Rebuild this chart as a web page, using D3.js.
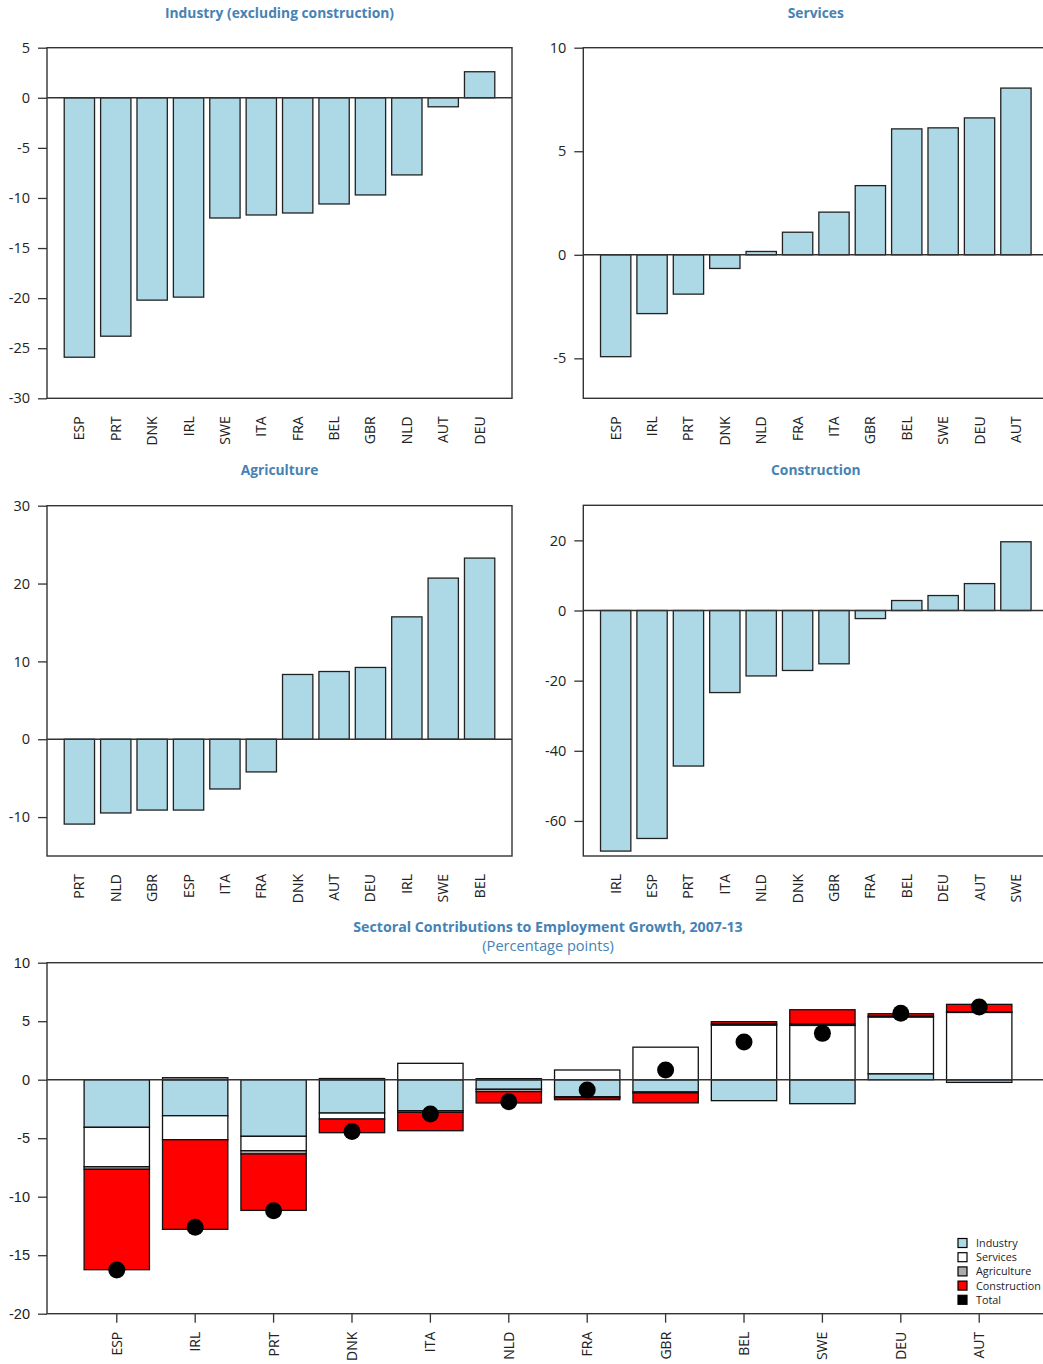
<!DOCTYPE html>
<html><head><meta charset="utf-8">
<script src="https://cdn.jsdelivr.net/npm/d3@7"></script>
<style>
body{margin:0;background:#fff;}
svg{display:block;font-family:"Open Sans","Noto Sans",sans-serif;}
</style></head>
<body><svg id="c" width="1043" height="1364"></svg>
<script>
// ---------- data ----------
const industryCats = ["ESP","PRT","DNK","IRL","SWE","ITA","FRA","BEL","GBR","NLD","AUT","DEU"];
const industryVals = [-25.9,-23.8,-20.2,-19.9,-12.0,-11.7,-11.5,-10.6,-9.7,-7.7,-0.9,2.6];
const industryTicks = [-30,-25,-20,-15,-10,-5,0,5];

const servicesCats = ["ESP","IRL","PRT","DNK","NLD","FRA","ITA","GBR","BEL","SWE","DEU","AUT"];
const servicesVals = [-4.92,-2.84,-1.9,-0.66,0.16,1.09,2.06,3.34,6.08,6.13,6.61,8.05];
const servicesTicks = [-5,0,5,10];

const agricultureCats = ["PRT","NLD","GBR","ESP","ITA","FRA","DNK","AUT","DEU","IRL","SWE","BEL"];
const agricultureVals = [-10.9,-9.47,-9.1,-9.1,-6.39,-4.2,8.32,8.7,9.22,15.72,20.7,23.27];
const agricultureTicks = [-10,0,10,20,30];

const constructionCats = ["IRL","ESP","PRT","ITA","NLD","DNK","GBR","FRA","BEL","DEU","AUT","SWE"];
const constructionVals = [-68.6,-65.0,-44.35,-23.4,-18.66,-17.1,-15.2,-2.3,2.85,4.27,7.68,19.6];
const constructionTicks = [-60,-40,-20,0,20];

// Sectoral contributions (percentage points)
const contribCats = ["ESP","IRL","PRT","DNK","ITA","NLD","FRA","GBR","BEL","SWE","DEU","AUT"];
const contribIndustry     = [-4.07,-3.08,-4.84,-2.85,-2.65,-0.82,-1.45,-1.05,-1.79,-2.05,0.51,-0.23];
const contribServices     = [-3.37,-2.05,-1.23,-0.51,1.40,0.09,0.83,2.78,4.67,4.64,4.85,5.75];
const contribAgriculture  = [-0.22,0.17,-0.28,0.10,-0.14,-0.20,-0.10,-0.08,0.10,0.12,0.08,0.06];
const contribConstruction = [-8.58,-7.66,-4.82,-1.17,-1.57,-0.97,-0.16,-0.85,0.19,1.22,0.20,0.63];
const contribTotal        = [-16.27,-12.62,-11.2,-4.42,-2.93,-1.88,-0.88,0.83,3.22,3.96,5.67,6.21];
const contribTicks = [-20,-15,-10,-5,0,5,10];

const sectorNames = ["Industry","Services","Agriculture","Construction"];
const legendNames = ["Industry","Services","Agriculture","Construction","Total"];

// ---------- styles ----------
const titleColor = "#4682B4";
const lineColor = "#333";
const barFill = "#ADD8E6";
const sectorFills = {"Industry":"#ADD8E6","Services":"#FFFFFF","Agriculture":"#AAAAAA","Construction":"#FF0000"};
const legendFills = ["#ADD8E6","#FFFFFF","#AAAAAA","#FF0000","#000000"];
const fmt = d => String(d);  // plain hyphen minus, as in the reference

const svg = d3.select("#c");

function makeX(cats, x0, x1){
  return d3.scaleBand().domain(cats).range([x0,x1]).paddingInner(1/6).paddingOuter(0.4733);
}

function frame(g, x0, x1, y0, y1, y, ticks){
  const ax = d3.axisLeft(y).tickValues(ticks).tickSize(9).tickPadding(8).tickFormat(fmt);
  const a = g.append("g").attr("transform",`translate(${x0},0)`).call(ax);
  a.select(".domain").remove();
  a.selectAll("line").attr("stroke",lineColor).attr("stroke-width",1.3);
  a.selectAll("text").attr("font-size",14.5).attr("fill","#222").attr("font-family","'Open Sans',sans-serif");
  g.append("rect").attr("x",x0).attr("y",y0).attr("width",x1-x0).attr("height",y1-y0)
    .attr("fill","none").attr("stroke",lineColor).attr("stroke-width",1.4);
}

function catLabels(g, x, yTop, size){
  g.selectAll(null).data(x.domain()).enter().append("text")
    .attr("transform",d=>`translate(${x(d)+x.bandwidth()/2+5},${yTop}) rotate(-90)`)
    .attr("text-anchor","end").attr("font-size",size).attr("fill","#222")
    .text(d=>d);
}

function panel(title, cats, vals, ticks, domain, x0, x1, y0, y1, titleY){
  const g = svg.append("g");
  const x = makeX(cats, x0, x1);
  const y = d3.scaleLinear().domain(domain).range([y1,y0]);
  g.append("text").attr("x",(x0+x1)/2).attr("y",titleY).attr("text-anchor","middle")
    .attr("font-weight","bold").attr("font-size",13.8).attr("fill",titleColor).text(title);
  g.selectAll(null).data(cats).enter().append("rect")
    .attr("x",d=>x(d)).attr("width",x.bandwidth())
    .attr("y",(d,i)=>y(Math.max(0,vals[i]))).attr("height",(d,i)=>Math.abs(y(vals[i])-y(0)))
    .attr("fill",barFill).attr("stroke","#222").attr("stroke-width",1.3);
  frame(g, x0, x1, y0, y1, y, ticks);
  g.append("line").attr("x1",x0).attr("x2",x1).attr("y1",y(0)).attr("y2",y(0))
    .attr("stroke",lineColor).attr("stroke-width",1.5);
  catLabels(g, x, y1+18, 14);
}

panel("Industry (excluding construction)", industryCats, industryVals, industryTicks, [-30,5], 47, 512, 47.7, 398.3, 18);
panel("Services", servicesCats, servicesVals, servicesTicks, [-6.93,10], 583.3, 1048.3, 47.7, 398.3, 18);
panel("Agriculture", agricultureCats, agricultureVals, agricultureTicks, [-15,30], 47, 512, 505.7, 856, 475);
panel("Construction", constructionCats, constructionVals, constructionTicks, [-70,30], 583.3, 1048.3, 505.3, 856, 475);

// ---------- bottom stacked chart ----------
(function(){
  const x0=47, x1=1049, y0=962.7, y1=1313.7;
  const g = svg.append("g");
  const x = makeX(contribCats, x0, x1);
  const y = d3.scaleLinear().domain([-20,10]).range([y1,y0]);
  const rows = contribCats.map((c,i)=>({cat:c, Industry:contribIndustry[i], Services:contribServices[i],
    Agriculture:contribAgriculture[i], Construction:contribConstruction[i], Total:contribTotal[i]}));
  const series = d3.stack().keys(sectorNames).offset(d3.stackOffsetDiverging)(rows);

  g.append("text").attr("x",(x0+x1)/2).attr("y",932).attr("text-anchor","middle")
    .attr("font-weight","bold").attr("font-size",14.2).attr("fill",titleColor)
    .text("Sectoral Contributions to Employment Growth, 2007-13");
  g.append("text").attr("x",(x0+x1)/2).attr("y",951).attr("text-anchor","middle")
    .attr("font-size",14.6).attr("fill",titleColor).text("(Percentage points)");

  series.forEach(s=>{
    g.selectAll(null).data(s).enter().append("rect")
      .attr("x",d=>x(d.data.cat)).attr("width",x.bandwidth())
      .attr("y",d=>y(Math.max(d[0],d[1]))).attr("height",d=>Math.abs(y(d[0])-y(d[1])))
      .attr("fill",sectorFills[s.key]).attr("stroke","#111").attr("stroke-width",1.3);
  });

  const ax = d3.axisLeft(y).tickValues(contribTicks).tickSize(9).tickPadding(8).tickFormat(fmt);
  const a = g.append("g").attr("transform",`translate(${x0},0)`).call(ax);
  a.select(".domain").remove();
  a.selectAll("line").attr("stroke",lineColor).attr("stroke-width",1.3);
  a.selectAll("text").attr("font-size",14.5).attr("fill","#222");
  const bx = d3.axisBottom(x).tickSize(9).tickFormat("");
  const b = g.append("g").attr("transform",`translate(0,${y1})`).call(bx);
  b.select(".domain").remove();
  b.selectAll("line").attr("stroke",lineColor).attr("stroke-width",1.3);
  g.append("rect").attr("x",x0).attr("y",y0).attr("width",x1-x0).attr("height",y1-y0)
    .attr("fill","none").attr("stroke",lineColor).attr("stroke-width",1.4);
  g.append("line").attr("x1",x0).attr("x2",x1).attr("y1",y(0)).attr("y2",y(0))
    .attr("stroke",lineColor).attr("stroke-width",1.5);

  g.selectAll(null).data(rows).enter().append("circle")
    .attr("cx",d=>x(d.cat)+x.bandwidth()/2).attr("cy",d=>y(d.Total)).attr("r",8.5).attr("fill","#000");

  catLabels(g, x, y1+18, 14);

  const lg = g.append("g");
  legendNames.forEach((n,i)=>{
    const cy = 1243 + i*14.2;
    lg.append("rect").attr("x",958).attr("y",cy-4.5).attr("width",9).attr("height",9)
      .attr("fill",legendFills[i]).attr("stroke","#000").attr("stroke-width",1.2);
    lg.append("text").attr("x",976).attr("y",cy+4).attr("font-size",10.8).attr("fill","#222").text(n);
  });
})();
</script>
</body></html>
